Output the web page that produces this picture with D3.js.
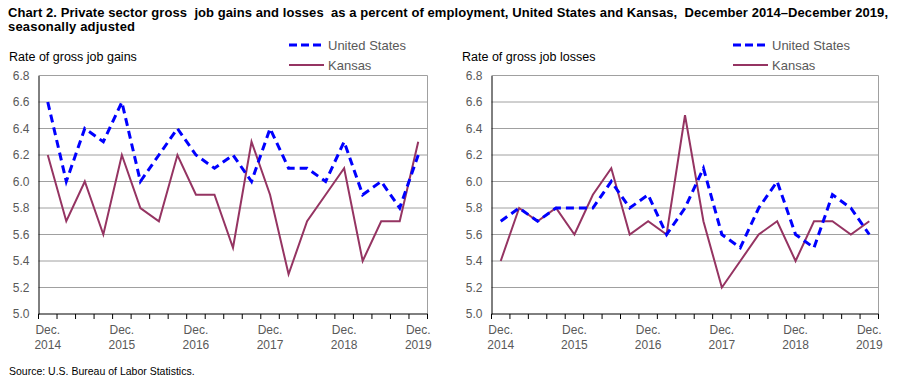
<!DOCTYPE html>
<html>
<head>
<meta charset="utf-8">
<script src="https://cdn.jsdelivr.net/npm/d3@7"></script>
<style>
  body { margin: 0; background: #fff; }
  svg { font-family: Arial, "Liberation Sans", sans-serif; }
</style>
</head>
<body>
<div id="chart"></div>
<script>
const quarters = d3.range(21);
const yearLabels = ["2014", "2015", "2016", "2017", "2018", "2019"];
const yTicks = [5.0, 5.2, 5.4, 5.6, 5.8, 6.0, 6.2, 6.4, 6.6, 6.8];

const gainsUS = [6.6, 6.0, 6.4, 6.3, 6.6, 6.0, 6.2, 6.4, 6.2, 6.1, 6.2, 6.0, 6.4, 6.1, 6.1, 6.0, 6.3, 5.9, 6.0, 5.8, 6.2];
const gainsKS = [6.2, 5.7, 6.0, 5.6, 6.2, 5.8, 5.7, 6.2, 5.9, 5.9, 5.5, 6.3, 5.9, 5.3, 5.7, 5.9, 6.1, 5.4, 5.7, 5.7, 6.3];
const lossesUS = [5.7, 5.8, 5.7, 5.8, 5.8, 5.8, 6.0, 5.8, 5.9, 5.6, 5.8, 6.1, 5.6, 5.5, 5.8, 6.0, 5.6, 5.5, 5.9, 5.8, 5.6];
const lossesKS = [5.4, 5.8, 5.7, 5.8, 5.6, 5.9, 6.1, 5.6, 5.7, 5.6, 6.5, 5.7, 5.2, 5.4, 5.6, 5.7, 5.4, 5.7, 5.7, 5.6, 5.7];

const w = 902, h = 385;
const svg = d3.select("#chart").append("svg").attr("width", w).attr("height", h);

svg.append("text")
  .attr("x", 8).attr("y", 17)
  .attr("font-size", "13px").attr("font-weight", "bold")
  .style("white-space", "pre")
  .attr("textLength", 880).attr("lengthAdjust", "spacing")
  .text("Chart 2. Private sector gross  job gains and losses  as a percent of employment, United States and Kansas,  December 2014\u2013December 2019,");
svg.append("text")
  .attr("x", 8).attr("y", 31)
  .attr("font-size", "13px").attr("font-weight", "bold")
  .attr("textLength", 127).attr("lengthAdjust", "spacing")
  .text("seasonally adjusted");

svg.append("text")
  .attr("x", 9).attr("y", 375)
  .attr("font-size", "10.5px")
  .text("Source: U.S. Bureau of Labor Statistics.");

const tickColor = "#595959";

function panel(left, right, titleX, legendX, title, us, ks) {
  const top = 75.5, bottom = 314;
  const x = d3.scaleBand().domain(quarters).range([left, right]);
  const y = d3.scaleLinear().domain([5.0, 6.8]).range([bottom, top]);
  const g = svg.append("g");

  g.append("text")
    .attr("x", titleX).attr("y", 61)
    .attr("font-size", "12.5px")
    .text(title);

  // gridlines
  g.selectAll(".grid").data(yTicks.slice(1)).enter().append("line")
    .attr("x1", left).attr("x2", right)
    .attr("y1", d => y(d)).attr("y2", d => y(d))
    .attr("stroke", "#a0a0a0").attr("stroke-width", 1);
  g.append("line")
    .attr("x1", right).attr("x2", right).attr("y1", top).attr("y2", bottom)
    .attr("stroke", "#a0a0a0");

  // y axis
  const yAxis = d3.axisLeft(y).tickValues(yTicks).tickSize(0).tickPadding(9)
    .tickFormat(d3.format(".1f"));
  const ya = g.append("g").attr("transform", `translate(${left},0)`).call(yAxis);
  ya.select(".domain").attr("stroke", "#000");
  ya.selectAll("text").attr("font-size", "12px").attr("fill", tickColor)
    .attr("font-family", "Arial, 'Liberation Sans', sans-serif");

  // x axis with ticks at band edges
  const xa = g.append("g").attr("transform", `translate(0,${bottom})`);
  xa.append("line").attr("x1", left).attr("x2", right).attr("stroke", "#000");
  const edges = d3.range(22).map(i => left + i * x.step());
  xa.selectAll(".tk").data(edges).enter().append("line")
    .attr("x1", d => d).attr("x2", d => d).attr("y1", 0).attr("y2", 5)
    .attr("stroke", "#000");
  const labelIdx = quarters.filter(i => i % 4 === 0);
  const lbl = xa.selectAll(".lbl").data(labelIdx).enter().append("text")
    .attr("text-anchor", "middle").attr("font-size", "12px").attr("fill", tickColor);
  lbl.append("tspan").attr("x", d => x(d) + x.bandwidth() / 2).attr("y", 20).text("Dec.");
  lbl.append("tspan").attr("x", d => x(d) + x.bandwidth() / 2).attr("y", 35).text((d, i) => yearLabels[i]);

  const line = vals => d3.line()
    .x((d, i) => x(i) + x.bandwidth() / 2)
    .y(d => y(d))(vals);

  g.append("path").attr("d", line(ks))
    .attr("fill", "none").attr("stroke", "#953462").attr("stroke-width", 2);
  g.append("path").attr("d", line(us))
    .attr("fill", "none").attr("stroke", "#0000ff").attr("stroke-width", 3)
    .attr("stroke-dasharray", "8,5");

  // legend
  const lg = g.append("g");
  lg.append("line").attr("x1", legendX).attr("x2", legendX + 33).attr("y1", 45).attr("y2", 45)
    .attr("stroke", "#0000ff").attr("stroke-width", 3).attr("stroke-dasharray", "8,4");
  lg.append("text").attr("x", legendX + 39).attr("y", 50).attr("font-size", "13px")
    .attr("fill", tickColor).text("United States");
  lg.append("line").attr("x1", legendX).attr("x2", legendX + 35).attr("y1", 65).attr("y2", 65)
    .attr("stroke", "#953462").attr("stroke-width", 2);
  lg.append("text").attr("x", legendX + 39).attr("y", 70).attr("font-size", "13px")
    .attr("fill", tickColor).text("Kansas");
}

panel(38.5, 427.5, 9, 289, "Rate of gross job gains", gainsUS, gainsKS);
panel(491.5, 878.5, 462, 733, "Rate of gross job losses", lossesUS, lossesKS);
</script>
</body>
</html>
